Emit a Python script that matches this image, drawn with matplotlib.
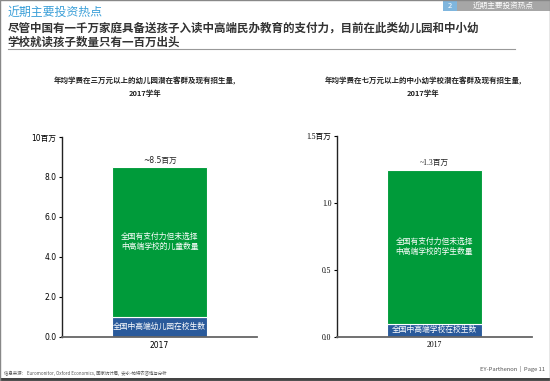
import matplotlib
matplotlib.use('Agg')
import matplotlib.pyplot as plt
from matplotlib.patches import Rectangle

plt.rcParams['font.family'] = ['Noto Sans CJK SC', 'DejaVu Sans']

# data (millions of students)
years = ['2017']
kg_enrolled = [1.0]      # 全国中高端幼儿园在校生数
kg_potential = [7.5]     # 有支付力但未选择中高端学校的儿童
sch_enrolled = [0.1]     # 全国中高端学校在校生数
sch_potential = [1.15]   # 有支付力但未选择中高端学校的学生
kg_total_label = '~8.5百万'
sch_total_label = '~1.3百万'
kg_yticks = [0, 2, 4, 6, 8, 10]
kg_yticklabels = ['0.0', '2.0', '4.0', '6.0', '8.0', '10百万']
sch_yticks = [0, 0.5, 1.0, 1.5]
sch_yticklabels = ['0.0', '0.5', '1.0', '1.5百万']

green = '#009B3A'
blue = '#2A5A9B'

fig = plt.figure(figsize=(5.5, 3.81), dpi=100)

# page header
fig.text(8/550, 1 - 12/381, '近期主要投资热点', color='#3A9FD8', fontsize=8.6,
         va='center', ha='left')
fig.text(8/550, 1 - 28/381,
         '尽管中国有一千万家庭具备送孩子入读中高端民办教育的支付力，目前在此类幼儿园和中小幼',
         color='#333333', fontsize=8.3, fontweight='bold', va='center', ha='left')
fig.text(7/550, 1 - 42/381, '学校就读孩子数量只有一百万出头',
         color='#333333', fontsize=8.3, fontweight='bold', va='center', ha='left')
fig.add_artist(plt.Line2D([8/550, 515/550], [1 - 49/381, 1 - 49/381],
                          color='#999999', lw=0.8))
fig.add_artist(Rectangle((443/550, 1 - 11/381), 14/550, 11/381, color='#7FB6DE', lw=0))
fig.add_artist(Rectangle((457/550, 1 - 11/381), 93/550, 11/381, color='#A6A6A6', lw=0))
fig.text(450/550, 1 - 5.5/381, '2', color='white', fontsize=5.5, ha='center', va='center')
fig.text(503/550, 1 - 5.5/381, '近期主要投资热点', color='white', fontsize=5.5,
         ha='center', va='center')

# footer
fig.text(4/550, 1 - 373/381,
         '信息来源： Euromonitor, Oxford Economics, 国家统计局,  安永-帕特农咨询与分析',
         color='#555555', fontsize=3.2, ha='left', va='center')
fig.text(545/550, 1 - 369/381, 'EY-Parthenon  |  Page 11', color='#555555',
         fontsize=4.2, ha='right', va='center')
fig.add_artist(Rectangle((0, 0), 1, 3/381, color='#444444', lw=0))
fig.add_artist(Rectangle((0, 0), 1, 1, fill=False, edgecolor='#888888', lw=1.0))

# chart subtitles
fig.text(145/550, 1 - 81/381, '年均学费在三万元以上的幼儿园潜在客群及现有招生量,',
         fontsize=5.4, ha='center', va='center', color='#222222', fontweight='bold')
fig.text(145/550, 1 - 93/381, '2017学年', fontsize=5.4, ha='center', va='center',
         color='#222222', fontweight='bold')
fig.text(423/550, 1 - 81/381, '年均学费在七万元以上的中小幼学校潜在客群及现有招生量,',
         fontsize=5.4, ha='center', va='center', color='#222222', fontweight='bold')
fig.text(423/550, 1 - 93/381, '2017学年', fontsize=5.4, ha='center', va='center',
         color='#222222', fontweight='bold')


def draw(ax, enrolled, potential, ymax, yticks, yticklabels, total_label,
         inner_text, base_text, tick_family):
    x = range(len(years))
    ax.bar(x, enrolled, width=0.49, color=blue, edgecolor='white', linewidth=0.8)
    ax.bar(x, potential, bottom=enrolled, width=0.49, color=green,
           edgecolor='white', linewidth=0.8)
    total = enrolled[0] + potential[0]
    ax.text(0, total + ymax * 0.012, total_label, ha='center', va='bottom',
            fontsize=5.5, family=tick_family, color='#222222')
    ax.text(0, enrolled[0] + potential[0] * 0.5, inner_text, ha='center',
            va='center', color='white', fontsize=5.6, linespacing=1.3)
    ax.text(0, enrolled[0] / 2, base_text, ha='center', va='center',
            color='white', fontsize=5.6)
    ax.set_xlim(-0.5, 0.5)
    ax.set_ylim(0, ymax)
    ax.set_xticks(list(x))
    ax.set_xticklabels(years, fontsize=5.5, family=tick_family)
    ax.set_yticks(yticks)
    ax.set_yticklabels(yticklabels, fontsize=5.5, family=tick_family)
    ax.tick_params(axis='x', length=0, pad=3)
    ax.tick_params(axis='y', length=2.5, width=0.8, pad=1.5)
    for s in ['top', 'right']:
        ax.spines[s].set_visible(False)
    ax.spines['left'].set_color('#222222')
    ax.spines['left'].set_linewidth(1.0)
    ax.spines['bottom'].set_color('#666666')
    ax.spines['bottom'].set_linewidth(1.3)


ax1 = fig.add_axes([62/550, 44/381, 195/550, 200/381])
draw(ax1, kg_enrolled, kg_potential, 10, kg_yticks, kg_yticklabels, kg_total_label,
     '全国有支付力但未选择\n中高端学校的儿童数量', '全国中高端幼儿园在校生数',
     ['DejaVu Sans', 'Noto Sans CJK SC'])

ax2 = fig.add_axes([337/550, 44/381, 195/550, 201/381])
draw(ax2, sch_enrolled, sch_potential, 1.5, sch_yticks, sch_yticklabels,
     sch_total_label, '全国有支付力但未选择\n中高端学校的学生数量', '全国中高端学校在校生数',
     ['Liberation Serif', 'Noto Sans CJK SC'])

fig.savefig('out.png', dpi=100)
